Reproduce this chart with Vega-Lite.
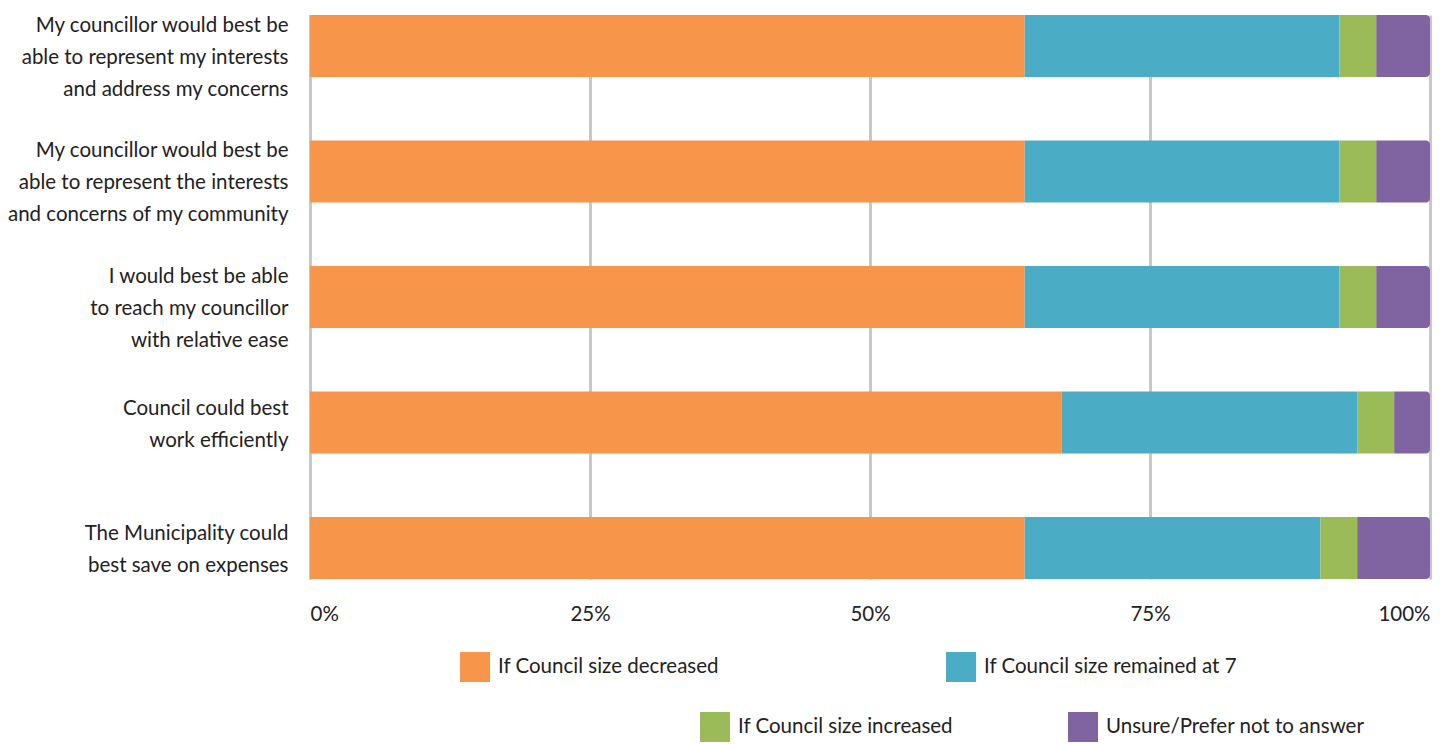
{
  "$schema": "https://vega.github.io/schema/vega-lite/v6.json",
  "width": 1120,
  "height": 564,
  "autosize": "none",
  "padding": {"left": 310, "top": 15, "right": 24, "bottom": 165},
  "background": "white",
  "config": {
    "font": "Lato",
    "view": {"stroke": null},
    "axis": {"labelFont": "Lato", "labelColor": "#222222", "labelFontSize": 20.5},
    "legend": {"labelFont": "Lato", "labelColor": "#222222", "labelFontSize": 20.5}
  },
  "data": {
    "values": [
      {"question": "My councillor would best be|able to represent my interests|and address my concerns", "response": "If Council size decreased", "ord": 1, "value": 63.8},
      {"question": "My councillor would best be|able to represent my interests|and address my concerns", "response": "If Council size remained at 7", "ord": 2, "value": 28.1},
      {"question": "My councillor would best be|able to represent my interests|and address my concerns", "response": "If Council size increased", "ord": 3, "value": 3.3},
      {"question": "My councillor would best be|able to represent my interests|and address my concerns", "response": "Unsure/Prefer not to answer", "ord": 4, "value": 4.8},
      {"question": "My councillor would best be|able to represent the interests|and concerns of my community", "response": "If Council size decreased", "ord": 1, "value": 63.8},
      {"question": "My councillor would best be|able to represent the interests|and concerns of my community", "response": "If Council size remained at 7", "ord": 2, "value": 28.1},
      {"question": "My councillor would best be|able to represent the interests|and concerns of my community", "response": "If Council size increased", "ord": 3, "value": 3.3},
      {"question": "My councillor would best be|able to represent the interests|and concerns of my community", "response": "Unsure/Prefer not to answer", "ord": 4, "value": 4.8},
      {"question": "I would best be able|to reach my councillor|with relative ease", "response": "If Council size decreased", "ord": 1, "value": 63.8},
      {"question": "I would best be able|to reach my councillor|with relative ease", "response": "If Council size remained at 7", "ord": 2, "value": 28.1},
      {"question": "I would best be able|to reach my councillor|with relative ease", "response": "If Council size increased", "ord": 3, "value": 3.3},
      {"question": "I would best be able|to reach my councillor|with relative ease", "response": "Unsure/Prefer not to answer", "ord": 4, "value": 4.8},
      {"question": "Council could best|work efficiently", "response": "If Council size decreased", "ord": 1, "value": 67.1},
      {"question": "Council could best|work efficiently", "response": "If Council size remained at 7", "ord": 2, "value": 26.4},
      {"question": "Council could best|work efficiently", "response": "If Council size increased", "ord": 3, "value": 3.3},
      {"question": "Council could best|work efficiently", "response": "Unsure/Prefer not to answer", "ord": 4, "value": 3.2},
      {"question": "The Municipality could|best save on expenses", "response": "If Council size decreased", "ord": 1, "value": 63.8},
      {"question": "The Municipality could|best save on expenses", "response": "If Council size remained at 7", "ord": 2, "value": 26.4},
      {"question": "The Municipality could|best save on expenses", "response": "If Council size increased", "ord": 3, "value": 3.3},
      {"question": "The Municipality could|best save on expenses", "response": "Unsure/Prefer not to answer", "ord": 4, "value": 6.5}
    ]
  },
  "transform": [
    {"stack": "value", "groupby": ["question"], "sort": [{"field": "ord"}], "offset": "normalize", "as": ["x0", "x1"]}
  ],
  "encoding": {
    "y": {
      "field": "question", "type": "nominal", "sort": null,
      "scale": {"paddingInner": 0.506, "paddingOuter": 0},
      "axis": {
        "title": null, "ticks": false, "grid": false,
        "domain": true, "domainColor": "#c8c8c8", "domainWidth": 3,
        "labelPadding": 22, "labelLimit": 0, "labelLineHeight": 32,
        "labelOffset": {"condition": {"test": "datum.value == 'Council could best|work efficiently' || datum.value == 'The Municipality could|best save on expenses'", "value": -14}, "value": -20},
        "labelExpr": "split(datum.label, '|')"
      }
    },
    "x": {
      "field": "x0", "type": "quantitative",
      "scale": {"domain": [0, 1], "nice": false},
      "axis": {
        "title": null, "values": [0, 0.25, 0.5, 0.75, 1], "format": ".0%",
        "ticks": false, "domain": false, "grid": true,
        "gridColor": "#c8c8c8", "gridWidth": 3,
        "labelPadding": 25, "labelFlush": true
      }
    },
    "x2": {"field": "x1"}
  },
  "resolve": {"scale": {"color": "independent"}},
  "layer": [
    {
      "transform": [{"filter": "datum.ord <= 2"}],
      "mark": {"type": "bar"},
      "encoding": {
        "color": {
          "field": "response", "type": "nominal",
          "scale": {
            "domain": ["If Council size decreased", "If Council size remained at 7"],
            "range": ["#F7964A", "#4BACC6"]
          },
          "legend": {
            "title": null, "orient": "none", "legendX": 150, "legendY": 637,
            "direction": "horizontal", "columns": 2, "columnPadding": 227,
            "symbolType": "square", "symbolSize": 900, "symbolStrokeWidth": 0,
            "symbolOpacity": 1, "labelOffset": 8, "labelLimit": 0
          }
        }
      }
    },
    {
      "encoding": {
        "color": {
          "field": "response", "type": "nominal",
          "scale": {
            "domain": ["If Council size increased", "Unsure/Prefer not to answer"],
            "range": ["#9BBB59", "#8064A2"]
          },
          "legend": {
            "title": null, "orient": "none", "legendX": 390, "legendY": 697,
            "direction": "horizontal", "columns": 2, "columnPadding": 115,
            "symbolType": "square", "symbolSize": 900, "symbolStrokeWidth": 0,
            "symbolOpacity": 1, "labelOffset": 8, "labelLimit": 0
          }
        }
      },
      "layer": [
        {
          "transform": [{"filter": "datum.ord == 3"}],
          "mark": {"type": "bar"}
        },
        {
          "transform": [{"filter": "datum.ord == 4"}],
          "mark": {"type": "bar", "cornerRadiusTopRight": 4, "cornerRadiusBottomRight": 4}
        }
      ]
    }
  ]
}
